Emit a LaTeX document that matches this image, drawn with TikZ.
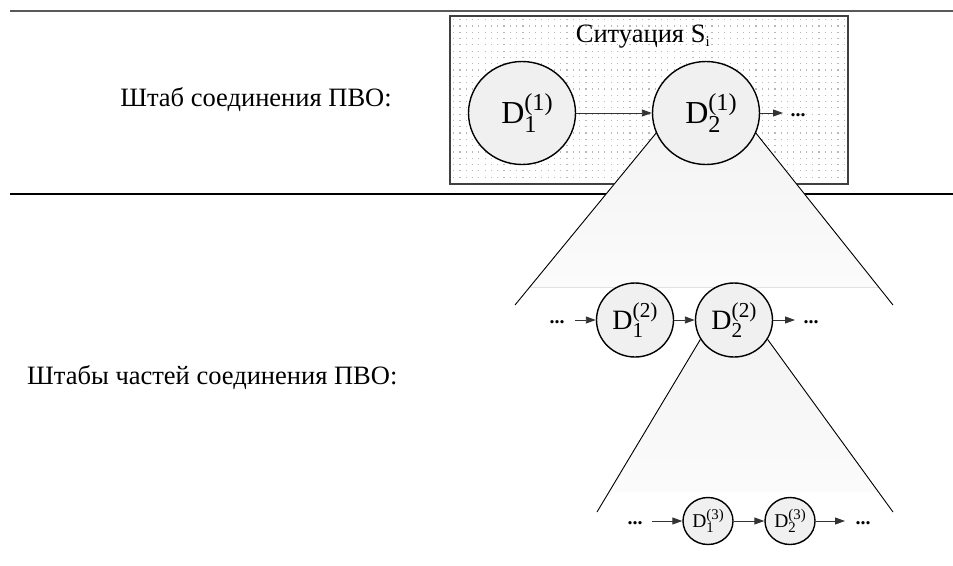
\documentclass[tikz,border=0pt]{standalone}
\usepackage{fontspec}
\setmainfont{Liberation Serif}
\usetikzlibrary{arrows.meta,shapes.geometric,calc}

\pgfdeclarelayer{base}
\pgfdeclarelayer{shade}
\pgfsetlayers{base,shade,main}

% D with a subscript index and a parenthesised superscript level
\newcommand{\dlab}[2]{D\rlap{\raisebox{-0.28em}{\scalebox{0.76}{#1}}}\raisebox{0.42em}{\scalebox{0.76}{(#2)}}}

\tikzset{
  decision/.style={ellipse, draw=black, line width=1.4pt, fill=gray!12, inner sep=0pt},
  lvlone/.style={decision, minimum width=107pt, minimum height=103pt, font=\fontsize{32}{36}\selectfont},
  lvltwo/.style={decision, minimum width=77pt, minimum height=74pt, font=\fontsize{28}{32}\selectfont},
  lvlthree/.style={decision, minimum width=50pt, minimum height=47pt, font=\fontsize{19.5}{22}\selectfont},
  flow/.style={-{Triangle[length=10pt,width=7pt]}, line width=0.9pt, draw=black!80},
  etc/.style={font=\bfseries\fontsize{20}{24}\selectfont, inner sep=0pt, anchor=base},
  caption/.style={font=\fontsize{26.5}{30}\selectfont, inner sep=0pt},
  funnel/.style={top color=gray!9, bottom color=gray!3, draw=none},
  funnelside/.style={line width=0.9pt, draw=black}
}

\begin{document}
\begin{tikzpicture}[x=1pt,y=-1pt]
\useasboundingbox (0,0) rectangle (953,565);

\begin{pgfonlayer}{base}
% level separators
\draw[line width=1.8pt, draw=black!65] (10,11) -- (953,11);
\draw[line width=1.6pt, draw=black] (10,194) -- (953,194);
% situation box with dotted background
\fill[white] (450,16) rectangle (848,184);
\foreach \i in {0,...,62} {
  \foreach \j in {0,...,26} {
    \fill[black!28] ({453+6.3*\i},{19+6.3*\j}) rectangle +(1.2,1.2);
  }
}
\draw[line width=1.1pt, draw=black!75] (450,16) rectangle (848,184);
\end{pgfonlayer}

\node[caption] (sit) at (643,37) {Ситуация S\textsubscript{\scalebox{0.8}{i}}};

% row captions
\node[caption] (hq) at (256,100) {Штаб соединения ПВО:};
\node[caption, anchor=west] (units) at (27,378) {Штабы частей соединения ПВО:};

% level 1 positions
\coordinate (c11) at (522,113);
\coordinate (c21) at (706,113);
% level 2 positions
\coordinate (c12) at (635,320);
\coordinate (c22) at (734,320);
% level 3 positions
\coordinate (c13) at (708,521);
\coordinate (c23) at (790,521);

% funnel endpoints
\coordinate (fl1) at (515,305);
\coordinate (fr1) at (893,305);
\coordinate (fl2) at (597,512);
\coordinate (fr2) at (893,512);

% level 1 decisions
\node[lvlone] (d11) at (c11) {\hspace*{10pt}\dlab{1}{1}};
\node[lvlone] (d21) at (c21) {\hspace*{10pt}\dlab{2}{1}};
\draw[funnelside] (d21.202) -- (fl1);
\draw[funnelside] (d21.-22) -- (fr1);
\draw[flow] (d11) -- (d21);
\node[etc] (e1) at (798,116) {...};
\draw[flow] (d21) -- (783,113);

% level 2 decisions
\node[lvltwo] (d12) at (c12) {\dlab{1}{2}};
\node[lvltwo] (d22) at (c22) {\dlab{2}{2}};
\draw[funnelside] (d22.210) -- (fl2);
\draw[funnelside] (d22.-30) -- (fr2);
\node[etc] (e2l) at (557,323) {...};
\node[etc] (e2r) at (811,323) {...};
\draw[flow] (575,320) -- (d12);
\draw[flow] (d12) -- (d22);
\draw[flow] (d22) -- (795,320);

% level 3 decisions
\node[lvlthree] (d13) at (c13) {\dlab{1}{3}};
\node[lvlthree] (d23) at (c23) {\dlab{2}{3}};
\node[etc] (e3l) at (635,524) {...};
\node[etc] (e3r) at (863,524) {...};
\draw[flow] (652,521) -- (d13);
\draw[flow] (d13) -- (d23);
\draw[flow] (d23) -- (845,521);

% shaded funnels between levels, under the nodes and over the box
\begin{pgfonlayer}{shade}
\fill[funnel] (d21.202) -- (d21.-22) -- ($(d21.-22)!0.896!(fr1)$) -- ($(d21.202)!0.896!(fl1)$) -- cycle;
\fill[funnel] (d22.210) -- (d22.-30) -- ($(d22.-30)!0.884!(fr2)$) -- ($(d22.210)!0.884!(fl2)$) -- cycle;
\end{pgfonlayer}
\end{tikzpicture}
\end{document}
